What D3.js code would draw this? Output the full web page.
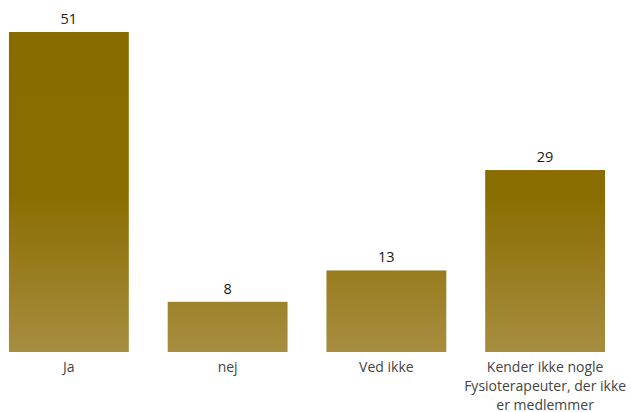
<!DOCTYPE html>
<html>
<head>
<meta charset="utf-8">
<script src="https://cdn.jsdelivr.net/npm/d3@7"></script>
<style>
  body { margin: 0; background: #fff; }
  svg text { font-family: "Open Sans", "DejaVu Sans", sans-serif; }
</style>
</head>
<body>
<svg id="chart" width="631" height="412"></svg>
<script>
// categories (line breaks as in the original label)
const categories = ["Ja", "nej", "Ved ikke", "Kender ikke nogle\nFysioterapeuter, der ikke\ner medlemmer"];
const values = [51, 8, 13, 29];

(function () {
  const svg = d3.select("#chart");
  const baseY = 352, topY = 32;

  const x = d3.scaleBand()
    .domain(categories)
    .range([-10.5, 624.5])
    .paddingInner(0.245)
    .paddingOuter(0.1225);

  const y = d3.scaleLinear()
    .domain([0, d3.max(values)])
    .range([baseY, topY]);

  // gradient shared across all bars (user space)
  const grad = svg.append("defs").append("linearGradient")
    .attr("id", "barGrad")
    .attr("gradientUnits", "userSpaceOnUse")
    .attr("x1", 0).attr("y1", topY).attr("x2", 0).attr("y2", baseY);
  grad.append("stop").attr("offset", 0).attr("stop-color", "#896c00");
  grad.append("stop").attr("offset", 0.5).attr("stop-color", "#8a6d00");
  grad.append("stop").attr("offset", 1).attr("stop-color", "#a78d40");

  const data = categories.map((c, i) => ({ cat: c, value: values[i] }));

  svg.append("g").selectAll("rect").data(data)
    .enter().append("rect")
    .attr("x", (d) => x(d.cat))
    .attr("y", (d) => y(d.value))
    .attr("width", x.bandwidth())
    .attr("height", (d) => baseY - y(d.value))
    .attr("fill", "url(#barGrad)");

  // value labels
  svg.append("g").selectAll("text").data(data)
    .enter().append("text")
    .attr("x", (d) => x(d.cat) + x.bandwidth() / 2)
    .attr("y", (d) => y(d.value) - 8)
    .attr("text-anchor", "middle")
    .attr("font-size", 14.5)
    .attr("fill", "#1a1a1a")
    .text((d) => d.value);

  // category labels
  const labels = svg.append("g").selectAll("text").data(data)
    .enter().append("text")
    .attr("text-anchor", "middle")
    .attr("font-size", 14)
    .attr("fill", "#444");
  labels.each(function (d) {
    const t = d3.select(this);
    d.cat.split("\n").forEach((line, i) => {
      t.append("tspan")
        .attr("x", x(d.cat) + x.bandwidth() / 2)
        .attr("y", 371.5 + i * 19)
        .text(line);
    });
  });
})();
</script>
</body>
</html>
